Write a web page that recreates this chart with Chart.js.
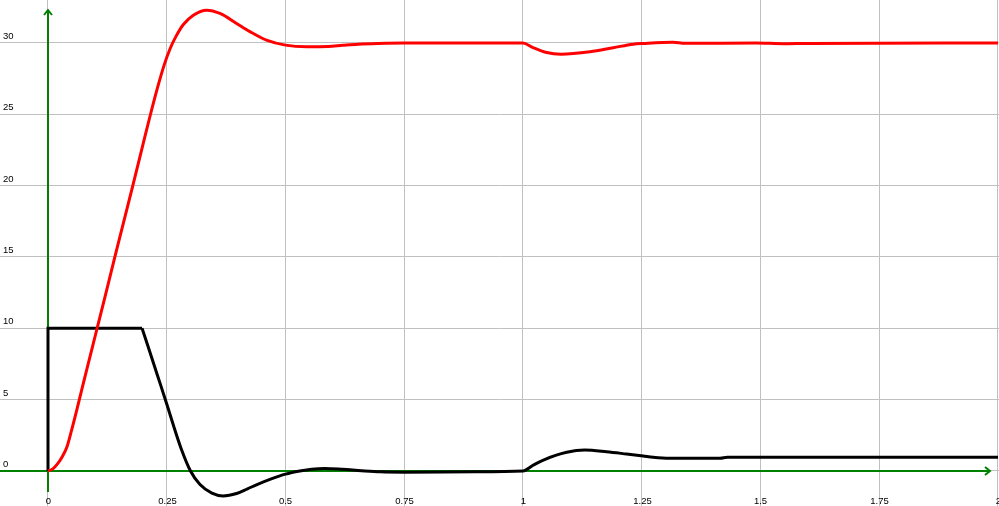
<!DOCTYPE html>
<html>
<head>
<meta charset="utf-8">
<script src="https://cdn.jsdelivr.net/npm/chart.js@4/dist/chart.umd.min.js"></script>
<style>
  html, body { margin: 0; padding: 0; background: #fff; }
  canvas { display: block; }
</style>
</head>
<body>
<canvas id="reponse" width="999" height="506"></canvas>
<script>
// red curve : output
var tRouge = [0, 0.01, 0.02, 0.03, 0.04, 0.05, 0.06, 0.08, 0.1, 0.12, 0.14, 0.16, 0.18, 0.2, 0.215, 0.23, 0.245, 0.257, 0.27, 0.285,
  0.306, 0.334, 0.362, 0.397, 0.425, 0.46, 0.5, 0.545, 0.59, 0.62, 0.653, 0.695, 0.75, 0.9, 1.0,
  1.02, 1.05, 1.08, 1.141, 1.19, 1.232, 1.253, 1.316, 1.341, 1.49, 1.55, 1.6, 2.0];
var yRouge = [0, 0.15, 0.5, 1.0, 1.7, 2.9, 4.2, 6.9, 9.55, 12.2, 14.9, 17.55, 20.2, 22.9, 24.9, 26.8, 28.5, 29.6, 30.5, 31.3,
  31.95, 32.3, 32.07, 31.37, 30.8, 30.2, 29.85, 29.74, 29.76, 29.84, 29.92, 29.97, 30, 30, 30,
  29.7, 29.33, 29.22, 29.39, 29.67, 29.92, 29.97, 30.06, 29.98, 30, 29.95, 29.97, 30];

// black curve : command (step part then the rest)
var tEchelon = [0, 0, 0.198];
var yEchelon = [0, 10, 10];
var tNoir = [0.198, 0.21, 0.23, 0.25, 0.265, 0.28, 0.3, 0.32, 0.345, 0.369, 0.397, 0.42, 0.44, 0.47, 0.5, 0.53, 0.555, 0.583,
  0.62, 0.66, 0.7, 0.75, 0.9, 1.0, 1.022, 1.043, 1.092, 1.13, 1.176, 1.218, 1.253, 1.274, 1.309, 1.415, 1.43, 2.0];
var yNoir = [10, 8.8, 6.75, 4.7, 3.1, 1.6, 0, -0.95, -1.55, -1.75, -1.58, -1.25, -0.95, -0.55, -0.22, 0, 0.13, 0.18,
  0.12, 0.02, -0.06, -0.08, -0.06, 0, 0.42, 0.77, 1.31, 1.47, 1.35, 1.19, 1.05, 0.96, 0.89, 0.89, 0.96, 0.96];

var ticksX = ['0', '0.25', '0.5', '0.75', '1', '1.25', '1.5', '1.75', '2'];
var ticksY = ['0', '5', '10', '15', '20', '25', '30'];

function points(xs, ys) {
  return xs.map(function (x, i) { return { x: x, y: ys[i] }; });
}

var axesPlugin = {
  id: 'axes',
  beforeDatasetsDraw: function (chart) {
    var ctx = chart.ctx, sx = chart.scales.x, sy = chart.scales.y, area = chart.chartArea;
    var x0 = Math.round(sx.getPixelForValue(0)), y0 = Math.round(sy.getPixelForValue(0));
    ctx.save();
    ctx.strokeStyle = '#008000';
    ctx.lineWidth = 2;
    ctx.beginPath();
    ctx.moveTo(area.left, y0); ctx.lineTo(area.right - 9, y0);
    ctx.moveTo(x0, y0 + 21); ctx.lineTo(x0, area.top + 10);
    ctx.stroke();
    // arrow heads
    ctx.beginPath();
    ctx.moveTo(x0 - 4, area.top + 15); ctx.lineTo(x0, area.top + 10); ctx.lineTo(x0 + 4, area.top + 15);
    ctx.moveTo(area.right - 14, y0 - 4); ctx.lineTo(area.right - 9, y0); ctx.lineTo(area.right - 14, y0 + 4);
    ctx.stroke();

    ctx.fillStyle = '#000';
    ctx.font = "9.5px 'Liberation Sans', Arial, sans-serif";
    ctx.textBaseline = 'alphabetic';
    ctx.textAlign = 'left';
    ticksY.forEach(function (t) {
      ctx.fillText(t, area.left + 3, Math.round(sy.getPixelForValue(parseFloat(t))) - 4);
    });
    ctx.textAlign = 'center';
    ticksX.forEach(function (t) {
      ctx.fillText(t, Math.round(sx.getPixelForValue(parseFloat(t))) + 0.5, y0 + 33);
    });
    ctx.restore();
  }
};

var ctx = document.getElementById('reponse').getContext('2d');
var chart = new Chart(ctx, {
  type: 'scatter',
  data: {
    datasets: [{
      data: points(tRouge, yRouge),
      showLine: true,
      borderColor: '#ff0000',
      borderWidth: 3,
      pointRadius: 0,
      cubicInterpolationMode: 'monotone'
    }, {
      data: points(tEchelon, yEchelon),
      showLine: true,
      borderColor: '#000000',
      borderWidth: 3,
      pointRadius: 0,
      tension: 0
    }, {
      data: points(tNoir, yNoir),
      showLine: true,
      borderColor: '#000000',
      borderWidth: 3,
      pointRadius: 0,
      cubicInterpolationMode: 'monotone'
    }]
  },
  options: {
    responsive: false,
    animation: false,
    layout: { padding: 0 },
    plugins: { legend: { display: false }, tooltip: { enabled: false } },
    scales: {
      x: {
        type: 'linear',
        min: -0.10105,
        max: 2.00211,
        ticks: { display: false, stepSize: 0.25, includeBounds: false },
        grid: { color: '#c0c0c0', lineWidth: 1, drawTicks: false },
        border: { display: false }
      },
      y: {
        type: 'linear',
        min: -2.4533,
        max: 33.014,
        ticks: { display: false, stepSize: 5, includeBounds: false },
        grid: { color: '#c0c0c0', lineWidth: 1, drawTicks: false },
        border: { display: false }
      }
    }
  },
  plugins: [axesPlugin]
});
</script>
</body>
</html>
